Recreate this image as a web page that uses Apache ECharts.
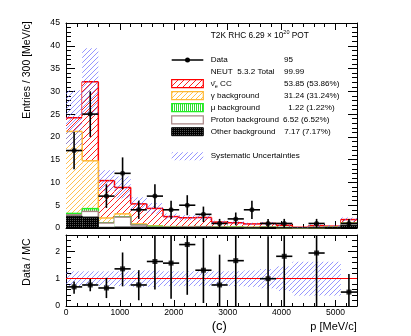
<!DOCTYPE html>
<html><head><meta charset="utf-8">
<script src="https://cdn.jsdelivr.net/npm/echarts@6.0.0/dist/echarts.min.js"></script>
<style>html,body{margin:0;padding:0;background:#fff}#c{width:411px;height:336px}</style>
</head><body><div id="c"></div>
<script>
// ---------------- data ----------------
const binCenters = [150,450,750,1050,1350,1650,1950,2250,2550,2850,3150,3450,3750,4050,4350,4650,4950,5250];
const binWidth = 300;
const dataCounts = [17,25,7,12,4,7,4,5,3,1,2,4,1,1,0,1,0,1];
const dataErr    = [4.1,5.0,2.6,3.5,2.0,2.6,2.0,2.2,1.7,1.0,1.4,2.0,1.0,1.0,0,1.0,0,1.0];
const otherBkg  = [2.6,2.4,0.15,0.2,0.2,0.1,0.1,0.1,0.15,0.1,0.05,0.05,0.1,0.05,0.05,0.05,0.1,0.6];
const protonBkg = [0.3,1.25,0.95,2.2,0.45,0.1,0.1,0.15,0.1,0.1,0.1,0.05,0.1,0.05,0,0.05,0.05,0.4];
const muBkg     = [0.3,0.6,0.05,0.05,0,0.15,0,0,0,0,0.05,0,0,0,0,0,0,0];
const gammaBkg  = [18.0,10.5,1.05,0.65,0.25,0.1,0.1,0.05,0.05,0.05,0.05,0.05,0.05,0,0,0,0,0.1];
const nueCC     = [3.0,17.35,8.2,5.8,4.4,3.85,2.2,1.95,2.0,1.05,0.9,0.75,0.75,0.5,0.1,0.4,0.25,0.75];
const sysRel    = [0.25,0.23,0.22,0.27,0.27,0.27,0.27,0.26,0.26,0.26,0.27,0.3,0.32,0.4,0.55,0.6,0.6,0.25];
const ratioVals = [0.70,0.77,0.66,1.36,0.77,1.63,1.57,2.25,1.31,0.77,1.66,null,1.0,1.82,null,1.94,null,0.51];
const ratioLow  = [0.45,0.54,0.29,0.72,0.21,0.60,0.27,0.41,0.11,0,0,null,0,0,null,0,null,0];
const ratioHigh = [0.90,0.99,1.03,1.96,1.31,2.8,2.9,3.4,2.49,1.88,3.5,null,2.55,3.5,null,4,null,1.17];
const ratioSys  = [0.27,0.27,0.27,0.27,0.3,0.3,0.27,0.27,0.27,0.27,0.27,0.3,0.35,0.45,0.62,0.62,0.62,0];
const legendLabels = ['Data','NEUT  5.3.2 Total','CC','γ background','μ background','Proton background','Other background','Systematic Uncertainties'];
const legendValues = ['95','99.99','53.85 (53.86%)','31.24 (31.24%)','1.22 (1.22%)','6.52 (6.52%)','7.17 (7.17%)'];

// ---------------- styles ----------------
const FONT = '"Liberation Sans", Arial, Helvetica, sans-serif';
function tile(size, bg, drawFn){
  const c=document.createElement('canvas'); c.width=size; c.height=size;
  const ctx=c.getContext('2d');
  if(bg){ctx.fillStyle=bg;ctx.fillRect(0,0,size,size);}
  drawFn(ctx,size);
  return {image:c, repeat:'repeat'};
}
function diag(color,lw){return (ctx,s)=>{ctx.strokeStyle=color;ctx.lineWidth=lw;ctx.beginPath();
  ctx.moveTo(0,s);ctx.lineTo(s,0);ctx.moveTo(-1,1);ctx.lineTo(1,-1);ctx.moveTo(s-1,s+1);ctx.lineTo(s+1,s-1);ctx.stroke();};}
const patRed = tile(6,'#fff',diag('#ff2020',1));
const patOrange = tile(5,'#fff',diag('#ffc050',1));
const patGreen = tile(2,'#fff',(ctx,s)=>{ctx.fillStyle='#30dd30';ctx.fillRect(0,0,1,s);});
const patBlack = tile(2,'#000',(ctx)=>{ctx.fillStyle='#555';ctx.fillRect(0,0,1,1);});
const patBlue = tile(5,null,diag('rgba(100,100,255,0.85)',0.8));
const C_RED='#ff0000', C_OR='#ffb833', C_GR='#22ee22', C_PR='#a88484', C_BK='#000';

const cum = (...arrs)=>arrs[0].map((_,i)=>arrs.reduce((s,a)=>s+a[i],0));
const cumOther = otherBkg.slice();
const cumProton = cum(otherBkg,protonBkg);
const cumMu = cum(otherBkg,protonBkg,muBkg);
const cumGamma = cum(otherBkg,protonBkg,muBkg,gammaBkg);
const cumTotal = cum(otherBkg,protonBkg,muBkg,gammaBkg,nueCC);

function histSeries(tops, fill, stroke, lw){
  return {type:'custom', xAxisIndex:0, yAxisIndex:0, z:2, silent:true,
    data: tops.map((v,i)=>[binCenters[i]-binWidth/2, binCenters[i]+binWidth/2, v, i<tops.length-1?tops[i+1]:v]),
    renderItem:(p,api)=>{
      const x0=api.value(0),x1=api.value(1),v=api.value(2),vn=api.value(3);
      const a=api.coord([x0,0]), b=api.coord([x1,v]), c=api.coord([x1,vn]);
      return {type:'group',children:[
        {type:'rect',shape:{x:a[0],y:b[1],width:b[0]-a[0],height:a[1]-b[1]},style:{fill:fill}},
        {type:'line',shape:{x1:a[0],y1:b[1],x2:b[0],y2:b[1]},style:{stroke:stroke,lineWidth:lw}},
        {type:'line',shape:{x1:b[0],y1:b[1],x2:c[0],y2:c[1]},style:{stroke:stroke,lineWidth:lw}}
      ]};
    }};
}
function bandSeries(xi, yi, lows, highs, z){
  return {type:'custom', xAxisIndex:xi, yAxisIndex:yi, z:z, silent:true,
    data: binCenters.map((c,i)=>[c-binWidth/2, c+binWidth/2, lows[i], highs[i]]).filter(d=>d[3]>d[2]),
    renderItem:(p,api)=>{
      const a=api.coord([api.value(0),api.value(2)]), b=api.coord([api.value(1),api.value(3)]);
      return {type:'rect',shape:{x:a[0],y:b[1],width:b[0]-a[0],height:a[1]-b[1]},style:{fill:patBlue}};
    }};
}
function errSeries(xi, yi, rows){
  return {type:'custom', xAxisIndex:xi, yAxisIndex:yi, z:6, silent:true, clip:true,
    data: rows,
    renderItem:(p,api)=>{
      const cs=p.coordSys;
      const x=api.value(0), y=api.value(1), lo=api.value(2), hi=api.value(3);
      const l=api.coord([x-binWidth/2,y]), r=api.coord([x+binWidth/2,y]);
      const t=api.coord([x,hi]), b=api.coord([x,lo]);
      const ty=Math.max(t[1],cs.y), by=Math.min(b[1],cs.y+cs.height);
      return {type:'group',children:[
        {type:'line',shape:{x1:l[0],y1:l[1],x2:r[0],y2:r[1]},style:{stroke:'#000',lineWidth:1.6}},
        {type:'line',shape:{x1:t[0],y1:ty,x2:b[0],y2:by},style:{stroke:'#000',lineWidth:1.6}}
      ]};
    }};
}

// ---------------- axes ----------------
function xAx(grid,pos,interval,len,labels,line){
  return {type:'value',gridIndex:grid,position:pos,min:0,max:5400,interval:interval,
    axisLine:{show:line,onZero:false,lineStyle:{color:'#000',width:1}},
    axisTick:{show:true,inside:true,length:len,lineStyle:{color:'#000',width:1}},
    axisLabel:{show:labels,margin:2,fontSize:8.5,color:'#000',fontFamily:FONT,showMaxLabel:false,showMinLabel:true,
      formatter:v=>String(v)},
    splitLine:{show:false}};
}
function yAx(grid,pos,max,interval,len,labels,line){
  return {type:'value',gridIndex:grid,position:pos,min:0,max:max,interval:interval,
    axisLine:{show:line,onZero:false,lineStyle:{color:'#000',width:1}},
    axisTick:{show:true,inside:true,length:len,lineStyle:{color:'#000',width:1}},
    axisLabel:{show:labels,margin:6,fontSize:8.7,color:'#000',fontFamily:FONT,showMaxLabel:max===45,
      formatter:v=>String(Math.round(v*100)/100)},
    splitLine:{show:false}};
}
const xAxes=[
  xAx(0,'bottom',1000,7,false,true), xAx(0,'bottom',200,4,false,false),
  xAx(0,'top',1000,7,false,true), xAx(0,'top',200,4,false,false),
  xAx(1,'bottom',1000,6,true,true), xAx(1,'bottom',200,3,false,false),
  xAx(1,'top',1000,6,false,true), xAx(1,'top',200,3,false,false)
];
const yAxes=[
  yAx(0,'left',45,5,9,true,true), yAx(0,'left',45,1,5,false,false),
  yAx(0,'right',45,5,9,false,true), yAx(0,'right',45,1,5,false,false),
  yAx(1,'left',2.6,1,9,true,true), yAx(1,'left',2.6,0.2,5,false,false),
  yAx(1,'right',2.6,1,9,false,true), yAx(1,'right',2.6,0.2,5,false,false)
];

// ---------------- series ----------------
const series=[
  histSeries(cumTotal,patRed,C_RED,1.5),
  histSeries(cumGamma,patOrange,C_OR,1.5),
  histSeries(cumMu,patGreen,C_GR,1.5),
  histSeries(cumProton,'#fff',C_PR,1.5),
  histSeries(cumOther,patBlack,C_BK,1),
  bandSeries(0,0,cumTotal.map((v,i)=>v*(1-sysRel[i])),cumTotal.map((v,i)=>v*(1+sysRel[i])),3),
  errSeries(0,0,binCenters.map((c,i)=>[c,dataCounts[i],dataCounts[i]-dataErr[i],dataCounts[i]+dataErr[i]]).filter(d=>d[1]>0)),
  {type:'scatter',xAxisIndex:0,yAxisIndex:0,z:7,silent:true,symbol:'circle',symbolSize:5,itemStyle:{color:'#000'},
    data:binCenters.map((c,i)=>[c,dataCounts[i]]).filter(d=>d[1]>0)},
  bandSeries(4,4,ratioSys.map(s=>1-s),ratioSys.map(s=>1+s),3),
  errSeries(4,4,binCenters.map((c,i)=>[c,ratioVals[i],ratioLow[i],ratioHigh[i]]).filter(d=>d[1]!==null)),
  {type:'scatter',xAxisIndex:4,yAxisIndex:4,z:7,silent:true,symbol:'rect',symbolSize:5,itemStyle:{color:'#000'},
    data:binCenters.map((c,i)=>[c,ratioVals[i]]).filter(d=>d[1]!==null),
    markLine:{silent:true,symbol:'none',label:{show:false},lineStyle:{color:'#ff0000',width:1,type:'solid'},data:[{yAxis:1}],z:4}}
];

// ---------------- legend / texts ----------------
const LX0=171.7, LW=31.6, LT=210.7, LF=8.1;
const rowY=[60,72,83.7,95.6,107.7,119.8,131.7,156.2];
const valX=[284,284,284,284,288.3,283,284.3];
function txt(x,y,text,size,opts){
  return Object.assign({type:'text',x:x,y:y,silent:true,style:Object.assign({text:text,fontSize:size,fontFamily:FONT,fill:'#000',
    align:'left',verticalAlign:'middle',textAlign:'left',textVerticalAlign:'middle'},(opts&&opts.style)||{})},(opts&&opts.el)||{});
}
function box(y,fill,stroke,lw){
  return {type:'rect',silent:true,shape:{x:LX0,y:y-4,width:LW,height:8},style:{fill:fill,stroke:stroke,lineWidth:lw}};
}
const graphic=[
  txt(LT,35.7,'{a|T2K RHC 6.29 × 10}{s|20}{a| POT}',8.5,{style:{rich:{a:{fontSize:8.3,fontFamily:FONT,lineHeight:12,verticalAlign:'middle'},s:{fontSize:5.5,fontFamily:FONT,lineHeight:12,verticalAlign:'top'}}}}),
  {type:'line',silent:true,shape:{x1:LX0,y1:rowY[0],x2:LX0+LW,y2:rowY[0]},style:{stroke:'#000',lineWidth:1.5}},
  {type:'circle',silent:true,shape:{cx:LX0+LW/2,cy:rowY[0],r:2.5},style:{fill:'#000'}},
  txt(LT,rowY[0],legendLabels[0],LF),
  txt(LT,rowY[1],legendLabels[1],LF),
  box(rowY[2],patRed,C_RED,1.2),
  txt(LT,rowY[2],'{n|ν̄}{s|e}{n| '+legendLabels[2]+'}',LF,{style:{rich:{n:{fontSize:LF,fontFamily:FONT,lineHeight:12,verticalAlign:'middle'},s:{fontSize:5.5,fontFamily:FONT,lineHeight:11,verticalAlign:'bottom'}}}}),
  box(rowY[3],patOrange,C_OR,1.2),
  txt(LT,rowY[3],legendLabels[3],LF),
  box(rowY[4],patGreen,C_GR,1.2),
  txt(LT,rowY[4],legendLabels[4],LF),
  box(rowY[5],'#fff',C_PR,1.2),
  txt(LT,rowY[5],legendLabels[5],LF),
  box(rowY[6],patBlack,'#000',1),
  txt(LT,rowY[6],legendLabels[6],LF),
  {type:'rect',silent:true,shape:{x:LX0,y:rowY[7]-4,width:LW,height:8},style:{fill:patBlue}},
  txt(LT,rowY[7],legendLabels[7],LF),
  txt(27,70,'Entries / 300 [MeV/c]',10.5,{style:{align:'center',textAlign:'center'},el:{rotation:Math.PI/2}}),
  txt(27,262,'Data / MC',10.5,{style:{align:'center',textAlign:'center'},el:{rotation:Math.PI/2}}),
  txt(219.3,326.5,'(c)',13,{style:{align:'center',textAlign:'center'}}),
  txt(356.7,326.5,'p [MeV/c]',11,{style:{align:'right',textAlign:'right'}})
];
legendValues.forEach((v,i)=>graphic.push(txt(valX[i],rowY[i],v,LF)));

const chart=echarts.init(document.getElementById('c'),null,{renderer:'canvas'});
chart.setOption({
  animation:false,
  backgroundColor:'#fff',
  grid:[{left:66,right:54,top:23,height:205,outerBoundsMode:'none'},{left:66,right:54,top:235,height:71,outerBoundsMode:'none'}],
  xAxis:xAxes, yAxis:yAxes, series:series, graphic:graphic
});
</script></body></html>
